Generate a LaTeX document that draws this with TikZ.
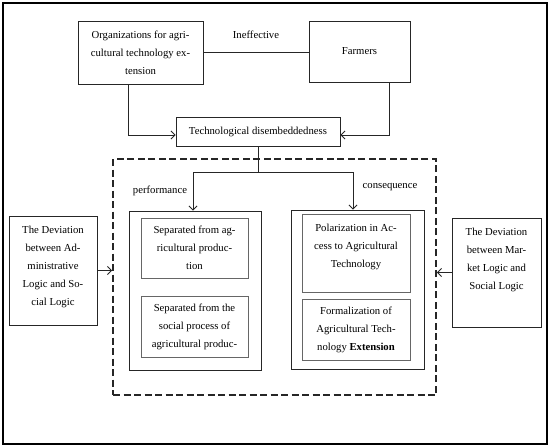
\documentclass[tikz,border=0pt]{standalone}
\usepackage{fontspec}
\setmainfont{Liberation Serif}
\usetikzlibrary{arrows.meta}
\tikzset{
  txt/.style={font=\fontsize{10.7}{18}\selectfont, align=center, inner sep=0pt},
  box/.style={txt, draw=black!85, line width=0.9pt},
  sub/.style={txt, draw=black!60, line width=0.8pt},
  arr/.style={draw=black!85, line width=0.9pt, -{Straight Barb[length=4pt,width=8pt]}},
  conn/.style={draw=black!85, line width=0.9pt},
}
\begin{document}
\begin{tikzpicture}[x=1pt,y=-1pt]
\useasboundingbox[fill=white] (0,0) rectangle (550,447);
\draw[line width=1.1pt] (3,3) rectangle (547,444);

\node[box, minimum width=125pt, minimum height=63pt] (org) at (140.5,52.5)
  {Organizations for agri-\\cultural technology ex-\\tension};
\node[box, minimum width=101pt, minimum height=61pt] (farmers) at (359.5,51.5) {Farmers};
\node[box, minimum width=164pt, minimum height=29pt] (tech) at (258,131.5) {Technological disembeddedness};

\node[draw=black!85, dashed, dash pattern=on 7pt off 3.5pt, line width=1.8pt,
      minimum width=323pt, minimum height=236pt, inner sep=0pt] (dash) at (274.5,277) {};

\node[box, minimum width=132pt, minimum height=159pt] (leftC) at (195,290.5) {};
\node[sub, minimum width=107pt, minimum height=60pt] (s1) at (194.5,248)
  {Separated from ag-\\ricultural produc-\\tion};
\node[sub, minimum width=107pt, minimum height=61pt] (s2) at (194.5,326.5)
  {Separated from the\\social process of\\agricultural produc-};

\node[box, minimum width=133pt, minimum height=159pt] (rightC) at (357.5,289.5) {};
\node[sub, minimum width=108pt, minimum height=78pt] (s3) at (356,253) {};
\node[txt] (s3t) at (356,247) {Polarization in Ac-\\cess to Agricultural\\Technology};
\node[sub, minimum width=108pt, minimum height=61pt] (s4) at (356,329.5)
  {Formalization of\\Agricultural Tech-\\nology \textbf{Extension}};

\node[box, minimum width=88pt, minimum height=109pt] (devL) at (53,270.5) {};
\node[txt] (devLt) at (53,266.5) {The Deviation\\between Ad-\\ministrative\\Logic and So-\\cial Logic};
\node[box, minimum width=89pt, minimum height=109pt] (devR) at (496.5,272.5) {};
\node[txt] (devRt) at (496.5,259.5) {The Deviation\\between Mar-\\ket Logic and\\Social Logic};

\node[txt] (ineff) at (256,35) {Ineffective};
\node[txt] (perf) at (160,191) {performance};
\node[txt] (cons) at (390,187) {consequence};

\coordinate (split) at (258,172);

\draw[conn] (org.east) -- (org.east -| farmers.west);
\draw[arr] ([xshift=-12.5pt]org.south) |- ([yshift=-3.5pt]tech.west);
\draw[arr] ([xshift=29.5pt]farmers.south) |- ([yshift=-3.5pt]tech.east);
\draw[conn] (tech.south) -- (split);
\draw[arr] (split) -| ([xshift=-2pt]leftC.north);
\draw[arr] (split) -| ([xshift=-4.5pt]rightC.north);
\draw[arr] (devL.east) -- (devL.east -| dash.west);
\draw[arr] (devR.west) -- (devR.west -| dash.east);
\end{tikzpicture}
\end{document}
